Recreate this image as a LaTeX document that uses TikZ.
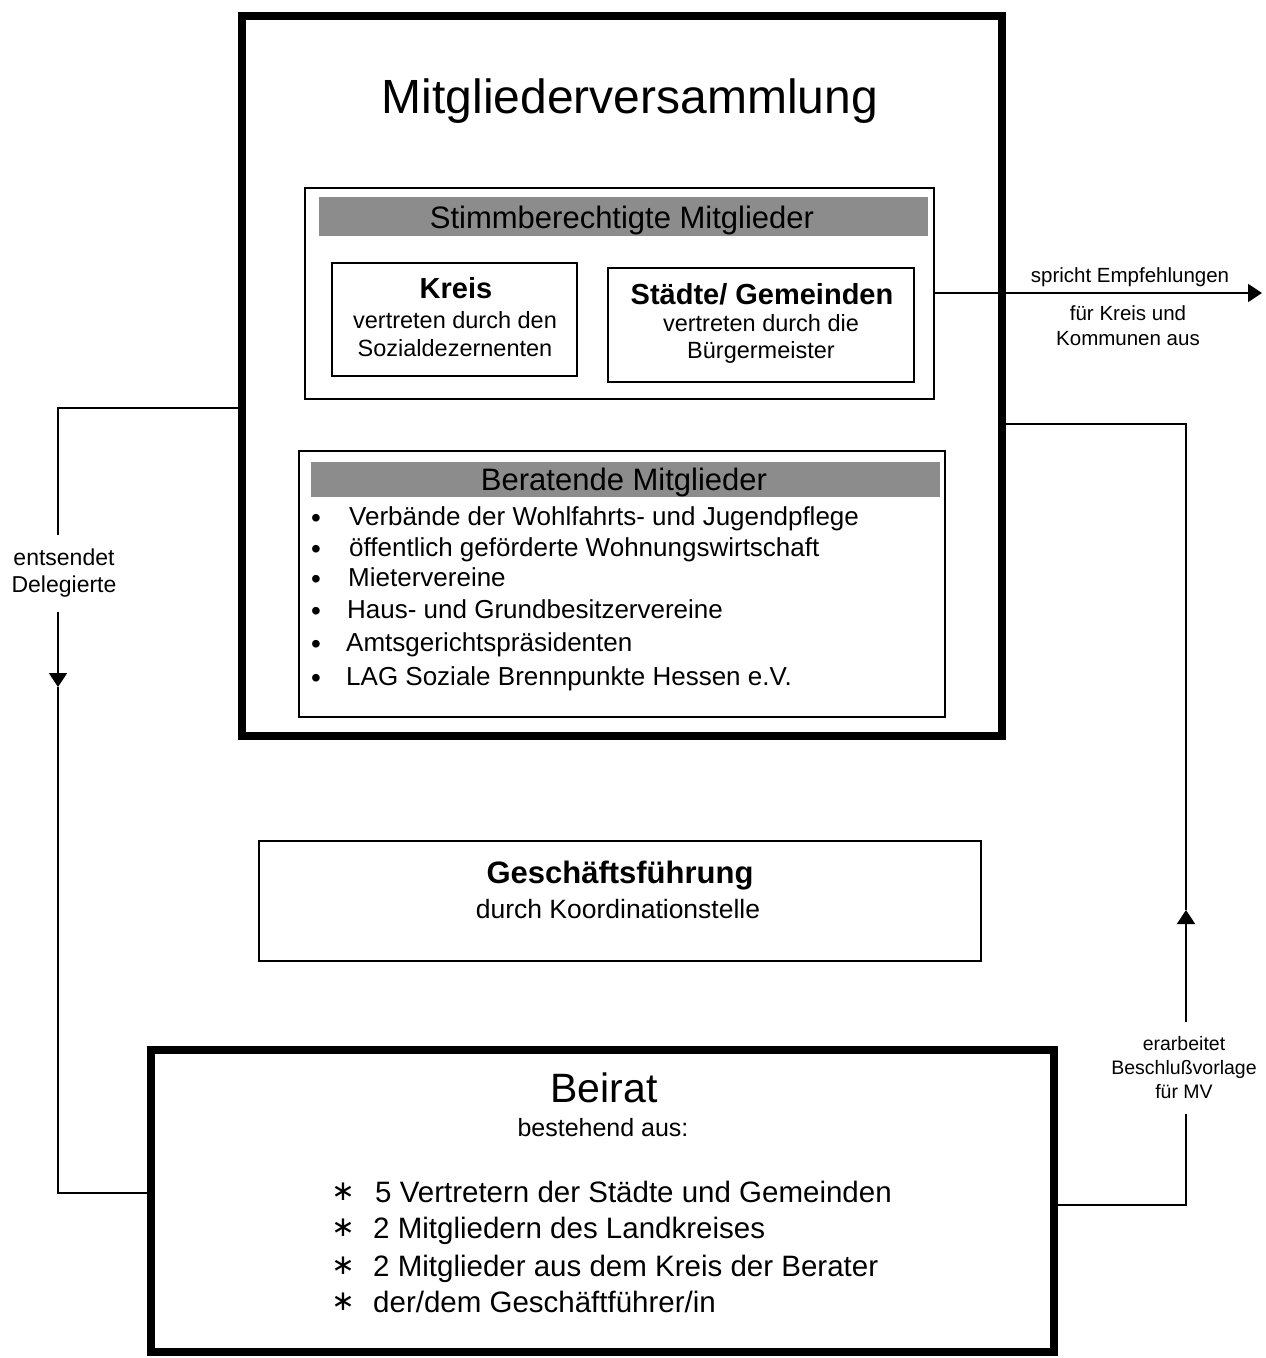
\documentclass[tikz,border=0pt]{standalone}
\usepackage{fontspec}
\setmainfont{Liberation Sans}
\newfontfamily\symfont{DejaVu Sans}
\usetikzlibrary{arrows.meta}
\begin{document}
\begin{tikzpicture}[x=1pt,y=-1pt,
  heavybox/.style={draw, line width=8pt, inner sep=0pt},
  thinbox/.style={draw, line width=1.6pt, inner sep=0pt},
  band/.style={fill=black!45, inner sep=0pt},
  conn/.style={line width=1.8pt},
  tip/.style={-{Triangle[length=14pt,width=18pt]}},
  title/.style={inner sep=0pt, font=\fontsize{48}{56}\selectfont},
  big/.style={inner sep=0pt, font=\fontsize{41}{48}\selectfont},
  head/.style={inner sep=0pt, font=\fontsize{31}{36}\selectfont},
  subhead/.style={inner sep=0pt, font=\bfseries\fontsize{29}{34}\selectfont},
  body/.style={inner sep=0pt, align=center, font=\fontsize{23.5}{27.5}\selectfont},
  item/.style={anchor=west, inner sep=0pt, text height=19pt, text depth=6pt, font=\fontsize{26}{30}\selectfont},
  bitem/.style={anchor=west, inner sep=0pt, text height=21pt, text depth=6pt, font=\fontsize{29.5}{34}\selectfont},
  bullet/.style={inner sep=0pt, font=\fontsize{28}{30}\selectfont},
  star/.style={inner sep=0pt, font=\symfont\fontsize{28}{30}\selectfont},
  note/.style={inner sep=0pt, align=center, font=\fontsize{20.5}{25}\selectfont},
  lab/.style={inner sep=0pt, align=center}
]
\useasboundingbox (0,0) rectangle (1266,1358);

% Mitgliederversammlung
\node[heavybox, minimum width=760pt, minimum height=720pt] (mv) at (622,376) {};
\node[title] (mvtitle) at (630,101) {Mitgliederversammlung};

% voting members
\node[thinbox, minimum width=629pt, minimum height=211pt] (stimm) at (619.5,293.5) {};
\node[band, minimum width=609pt, minimum height=39pt] (stimmband) at (623.5,216.5) {};
\node[head] (stimmtitle) at (622,220) {Stimmberechtigte Mitglieder};

\node[thinbox, minimum width=245pt, minimum height=113pt] (kreis) at (454.5,319.5) {};
\node[subhead] (kreistitle) at (456,288) {Kreis};
\node[body] (kreistext) at (455,334) {vertreten durch den\\Sozialdezernenten};

\node[thinbox, minimum width=306pt, minimum height=114pt] (staedte) at (761,325) {};
\node[subhead] (staedtetitle) at (762,294) {Städte/ Gemeinden};
\node[body] (staedtetext) at (761,339) {vertreten durch die\\Bürgermeister};

% advisory members
\node[thinbox, minimum width=646pt, minimum height=266pt] (berat) at (622,584) {};
\node[band, minimum width=629pt, minimum height=35pt] (beratband) at (625.5,479.5) {};
\node[head] (berattitle) at (624,482) {Beratende Mitglieder};

\node[bullet] (b1) at (316,521) {\textbullet};
\node[item] (i1) at (349,519) {Verbände der Wohlfahrts- und Jugendpflege};
\node[bullet] (b2) at (316,552) {\textbullet};
\node[item] (i2) at (349,550) {öffentlich geförderte Wohnungswirtschaft};
\node[bullet] (b3) at (316,582) {\textbullet};
\node[item] (i3) at (348,580) {Mietervereine};
\node[bullet] (b4) at (316,614) {\textbullet};
\node[item] (i4) at (347,612) {Haus- und Grundbesitzervereine};
\node[bullet] (b5) at (316,647) {\textbullet};
\node[item] (i5) at (346,645) {Amtsgerichtspräsidenten};
\node[bullet] (b6) at (316,681) {\textbullet};
\node[item] (i6) at (346,679) {LAG Soziale Brennpunkte Hessen e.V.};

% Geschäftsführung
\node[thinbox, minimum width=722pt, minimum height=120pt] (gf) at (620,901) {};
\node[subhead, font=\bfseries\fontsize{31}{36}\selectfont] (gftitle) at (620,876) {Geschäftsführung};
\node[inner sep=0pt, font=\fontsize{26.5}{30}\selectfont] (gftext) at (618,909) {durch Koordinationstelle};

% Beirat
\node[heavybox, minimum width=903pt, minimum height=302pt] (beirat) at (602.5,1201) {};
\node[big] (beirattitle) at (604,1088) {Beirat};
\node[inner sep=0pt, font=\fontsize{25}{30}\selectfont] (beiratsub) at (603,1128) {bestehend aus:};

\node[star] (s1) at (343,1192) {∗};
\node[bitem] (j1) at (375,1195) {5 Vertretern der Städte und Gemeinden};
\node[star] (s2) at (343,1228) {∗};
\node[bitem] (j2) at (373,1231) {2 Mitgliedern des Landkreises};
\node[star] (s3) at (343,1266) {∗};
\node[bitem] (j3) at (373,1269) {2 Mitglieder aus dem Kreis der Berater};
\node[star] (s4) at (343,1302) {∗};
\node[bitem] (j4) at (373,1305) {der/dem Geschäftführer/in};

% recommendations arrow
\coordinate (emp) at (1262,293);
\draw[conn, tip] (stimm.east |- emp) -- (emp);
\node[note] (emptop) at (1130,277) {spricht Empfehlungen};
\node[note] (empbot) at (1128,326) {für Kreis und\\Kommunen aus};

% delegates: Mitgliederversammlung -> Beirat
\coordinate (lc1) at (58,408);
\coordinate (ltip) at (58,687);
\coordinate (lc2) at (58,1193);
\node[lab, note, font=\fontsize{23}{27}\selectfont, minimum height=77pt] (deleg) at (64,573.5) {entsendet\\Delegierte};
\draw[conn] (mv.west |- lc1) -- (lc1) -- (deleg.north -| lc1);
\draw[conn, tip] (deleg.south -| lc1) -- (ltip);
\draw[conn] (ltip) -- (lc2) -- (beirat.west |- lc2);

% proposals: Beirat -> Mitgliederversammlung
\coordinate (rc1) at (1186,1205);
\coordinate (rtip) at (1186,910);
\coordinate (rc2) at (1186,424);
\node[lab, note, font=\fontsize{19.5}{24}\selectfont, minimum height=91pt] (vorlage) at (1184,1068) {erarbeitet\\Beschlußvorlage\\für MV};
\draw[conn] (beirat.east |- rc1) -- (rc1) -- (vorlage.south -| rc1);
\draw[conn, tip] (vorlage.north -| rc1) -- (rtip);
\draw[conn] (rtip) -- (rc2) -- (mv.east |- rc2);
\end{tikzpicture}
\end{document}
